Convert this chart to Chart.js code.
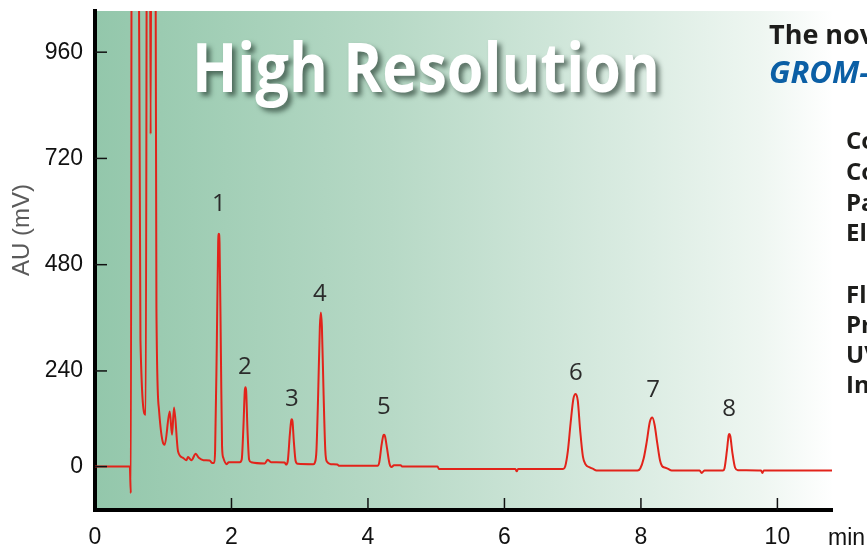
<!DOCTYPE html>
<html>
<head>
<meta charset="utf-8">
<script src="https://cdn.jsdelivr.net/npm/chart.js@4.4.1/dist/chart.umd.min.js"></script>
<style>
html,body{margin:0;padding:0;background:#ffffff;overflow:hidden;}
#wrap{position:relative;width:867px;height:549px;}
canvas{display:block;}
</style>
</head>
<body>
<div id="wrap"><canvas id="chrom" width="867" height="549" style="width:867px;height:549px"></canvas></div>
<script>
// ---------------- DATA ----------------
const timesMin = [
  0, 0.51, 0.525, 0.540, 0.630, 0.666, 0.743, 0.765, 0.800, 0.815, 0.830, 0.880, 0.900, 0.938,
  0.998, 1.022, 1.095, 1.129, 1.158, 1.217, 1.290, 1.339, 1.363, 1.413, 1.476, 1.521, 1.590,
  1.680, 1.720, 1.745, 1.760, 1.785, 1.805, 1.815, 1.825, 1.845, 1.862, 1.880, 1.930, 1.960,
  2.120, 2.150, 2.175, 2.195, 2.205, 2.215, 2.235, 2.258, 2.290, 2.488, 2.532, 2.580, 2.780,
  2.800, 2.825, 2.855, 2.875, 2.884, 2.895, 2.915, 2.940, 2.970, 3.200, 3.222, 3.245, 3.270,
  3.295, 3.310, 3.325, 3.350, 3.375, 3.400, 3.460, 3.550, 3.580, 4.140, 4.165, 4.200, 4.225,
  4.237, 4.250, 4.280, 4.315, 4.345, 4.380, 4.480, 4.500, 5.020, 5.040, 6.160, 6.180, 6.200,
  6.860, 6.890, 6.930, 6.970, 7.010, 7.044, 7.075, 7.110, 7.150, 7.190, 7.250, 7.300, 7.350,
  7.950, 7.990, 8.040, 8.085, 8.130, 8.167, 8.200, 8.240, 8.280, 8.310, 8.360, 8.400, 8.450,
  8.860, 8.890, 8.930, 9.200, 9.225, 9.260, 9.285, 9.296, 9.310, 9.340, 9.380, 9.420, 9.760,
  9.780, 9.800, 10.800
];
const signalMV = [
  0, 0, -67, 1600, 1600, 310, 130, 1600, 1600, 775, 1600, 1600, 385, 142,
  59, 55, 138, 80, 148, 38, 22, 16, 24, 16, 32, 22, 16,
  15, 9, 10, 40, 300, 530, 550, 530, 280, 50, 22, 6, 11,
  11, 18, 100, 190, 199, 190, 90, 18, 11, 8, 17, 11, 10,
  5, 14, 80, 115, 119, 112, 60, 14, 7, 6, 10, 40, 180,
  340, 372, 340, 180, 40, 12, 6, 5, 2, 2, 10, 55, 78,
  80, 76, 45, 8, -1, 3, 3, 0, 0, -6, -6, -12, -6,
  -6, 0, 40, 110, 170, 182, 165, 90, 25, 5, -2, -6, -10,
  -10, -5, 20, 62, 112, 123, 105, 58, 15, 1, -3, -6, -10,
  -10, -16, -10, -10, -4, 40, 78, 82, 76, 35, -3, -9, -10,
  -16, -10, -10
];
const peakLabels      = ['1', '2', '3', '4', '5', '6', '7', '8'];
const peakLabelTimes  = [1.814, 2.195, 2.884, 3.294, 4.233, 7.048, 8.177, 9.292];
const peakLabelValues = [616, 249, 168, 413, 148, 235, 193, 145];

const xTickValues = [0, 2, 4, 6, 8, 10];
const yTickValues = [0, 240, 480, 720, 960];
const xAxisUnit = 'min';
const yAxisTitle = 'AU (mV)';
const headline = 'High Resolution';
const introLine = 'The novel';
const productLine = 'GROM-SIL';
const conditionLabels = ['Column:', 'Column size:', 'Particle size:', 'Eluent:',
                         'Flow rate:', 'Pressure:', 'UV:', 'Injection:'];

// ---------------- SCALE ----------------
// The source axis is drawn with a compressed 0–240 interval; reproduce it.
const Y_BREAK = 240, LOW_RATIO = 0.9;
const warp = v => v >= Y_BREAK ? v : Y_BREAK - (Y_BREAK - v) * LOW_RATIO;
const unwarp = w => w >= Y_BREAK ? w : Y_BREAK - (Y_BREAK - w) / LOW_RATIO;

class BrokenLinearScale extends Chart.LinearScale {
  getPixelForValue(value) {
    if (value === null || value === undefined) return NaN;
    return super.getPixelForValue(warp(value));
  }
  getValueForPixel(pixel) {
    return unwarp(super.getValueForPixel(pixel));
  }
}
BrokenLinearScale.id = 'brokenLinear';
BrokenLinearScale.defaults = Chart.LinearScale.defaults;
Chart.register(BrokenLinearScale);

const yAxisMin = -109, yAxisMax = 1053;
const xAxisMin = 0, xAxisMax = 10.8;

const TICK_FONT = {family: '"Liberation Sans", Arial, sans-serif', size: 23};

// ---------------- DECORATION PLUGIN ----------------
const decor = {
  id: 'decor',
  beforeDraw(chart) {
    const {ctx, chartArea: a} = chart;
    ctx.save();
    const g = ctx.createLinearGradient(a.left, 0, a.right + 2, 0);
    g.addColorStop(0, '#93c7ab');
    g.addColorStop(0.4, '#b7d9c6');
    g.addColorStop(0.72, '#d9ebe1');
    g.addColorStop(0.9, '#eef6f1');
    g.addColorStop(1, '#ffffff');
    ctx.fillStyle = g;
    ctx.fillRect(a.left, a.top, a.right - a.left, a.bottom - a.top);
    ctx.restore();
  },
  afterDatasetsDraw(chart) {
    const {ctx, chartArea: a, scales: {x, y}} = chart;
    ctx.save();
    ctx.strokeStyle = '#111';
    ctx.lineWidth = 1.5;
    yTickValues.forEach(v => {
      const py = y.getPixelForValue(v);
      ctx.beginPath(); ctx.moveTo(a.left, py); ctx.lineTo(a.left + 12, py); ctx.stroke();
    });
    xTickValues.forEach(v => {
      if (v === xAxisMin) return;
      const px = x.getPixelForValue(v);
      ctx.beginPath(); ctx.moveTo(px, a.bottom); ctx.lineTo(px, a.bottom - 12); ctx.stroke();
    });
    ctx.fillStyle = '#2b2b2b';
    ctx.font = '24px "Open Sans", sans-serif';
    ctx.textAlign = 'center';
    ctx.textBaseline = 'middle';
    peakLabels.forEach((lab, i) => {
      ctx.fillText(lab, x.getPixelForValue(peakLabelTimes[i]), y.getPixelForValue(peakLabelValues[i]));
    });
    ctx.restore();
  },
  afterDraw(chart) {
    const {ctx, chartArea: a} = chart;
    ctx.save();
    ctx.font = 'bold 68px "Open Sans", sans-serif';
    const w = ctx.measureText(headline).width;
    ctx.translate(192, 92);
    ctx.scale(468 / w, 1);
    ctx.shadowColor = 'rgba(20,40,30,0.6)';
    ctx.shadowBlur = 5;
    ctx.shadowOffsetX = 4;
    ctx.shadowOffsetY = 4;
    ctx.fillStyle = '#ffffff';
    ctx.textBaseline = 'alphabetic';
    ctx.fillText(headline, 0, 0);
    ctx.restore();

    ctx.save();
    ctx.translate(22, 230);
    ctx.rotate(-Math.PI / 2);
    ctx.font = '24px "Liberation Sans", Arial, sans-serif';
    ctx.fillStyle = '#5a5a5a';
    ctx.textAlign = 'center';
    ctx.textBaseline = 'middle';
    ctx.fillText(yAxisTitle, 0, 0);
    ctx.restore();

    ctx.save();
    ctx.font = '23px "Liberation Sans", Arial, sans-serif';
    ctx.fillStyle = '#111';
    ctx.textAlign = 'left';
    ctx.textBaseline = 'middle';
    ctx.fillText(xAxisUnit, a.right - 4, 539);
    ctx.textBaseline = 'alphabetic';
    ctx.fillStyle = '#1d1d1b';
    ctx.font = 'bold 27px "Open Sans", sans-serif';
    ctx.fillText(introLine, 769, 44);
    ctx.fillStyle = '#0b5fa5';
    ctx.font = 'italic bold 31px "Open Sans", sans-serif';
    ctx.fillText(productLine, 769, 83);
    ctx.fillStyle = '#1d1d1b';
    ctx.font = 'bold 24px "Open Sans", sans-serif';
    const baselines = [149, 180, 211, 241, 303, 333, 363, 393];
    conditionLabels.forEach((t, i) => ctx.fillText(t, 846, baselines[i]));
    ctx.restore();
  }
};

// ---------------- CHART ----------------
const points = timesMin.map((t, i) => ({x: t, y: signalMV[i]}));

new Chart(document.getElementById('chrom'), {
  type: 'line',
  data: {
    datasets: [{
      data: points,
      borderColor: '#e2231a',
      borderWidth: 2,
      pointRadius: 0,
      fill: false,
      cubicInterpolationMode: 'monotone'
    }]
  },
  options: {
    responsive: false,
    animation: false,
    devicePixelRatio: 1,
    layout: {padding: {top: 11, right: 35, left: 0, bottom: 0}},
    plugins: {legend: {display: false}, tooltip: {enabled: false}},
    scales: {
      x: {
        type: 'linear',
        min: xAxisMin,
        max: xAxisMax,
        afterBuildTicks: s => { s.ticks = xTickValues.map(v => ({value: v})); },
        afterFit: s => { s.height = 39; s.paddingLeft = 0; s.paddingRight = 0; },
        grid: {display: false, drawTicks: false},
        border: {display: true, color: '#000', width: 4},
        ticks: {padding: 14, color: '#111', font: TICK_FONT, maxRotation: 0, autoSkip: false}
      },
      y: {
        type: 'brokenLinear',
        min: warp(yAxisMin),
        max: warp(yAxisMax),
        bounds: 'data',
        afterBuildTicks: s => { s.ticks = yTickValues.map(v => ({value: v})); },
        afterFit: s => { s.width = 95; s.paddingTop = 0; s.paddingBottom = 0; },
        grid: {display: false, drawTicks: false},
        border: {display: true, color: '#000', width: 4},
        ticks: {padding: 12, color: '#111', font: TICK_FONT, autoSkip: false,
                callback: v => String(v)}
      }
    }
  },
  plugins: [decor]
});
</script>
</body>
</html>
